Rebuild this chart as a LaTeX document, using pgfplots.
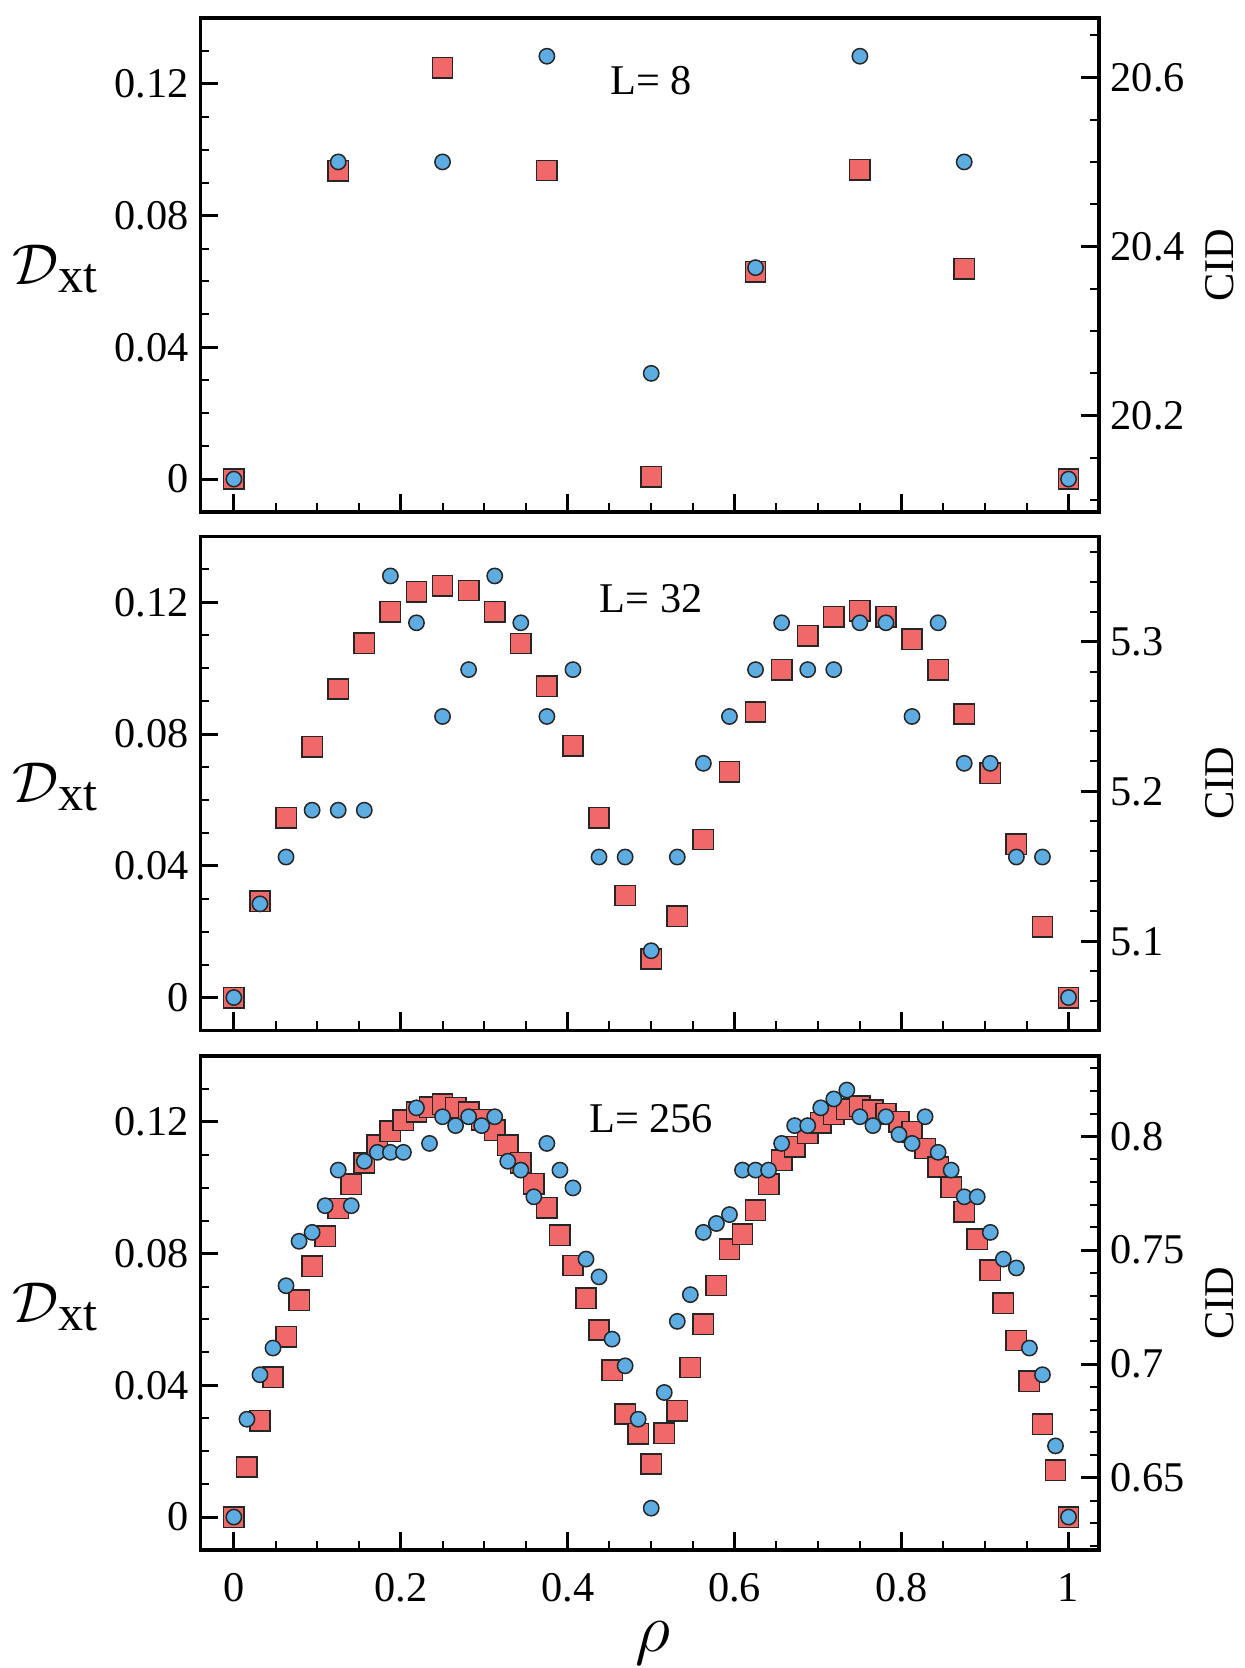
\documentclass[border=0pt]{standalone}
\usepackage{fontspec}
\setmainfont{Liberation Serif}
\usepackage{pgfplots}
\usepackage{pgfplotstable}
\pgfplotsset{compat=1.18}
\definecolor{sqred}{RGB}{240,104,104}
\definecolor{cblue}{RGB}{93,173,226}

\pgfplotstableread{
x D CID
0 0 20.125
0.125 0.0936 20.5
0.25 0.1249 20.5
0.375 0.0937 20.625
0.5 0.0007 20.25
0.625 0.0629 20.375
0.75 0.0939 20.625
0.875 0.0638 20.5
1 0 20.125
}\tabA

\pgfplotstableread{
x D CID
0 0 5.0625
0.03125 0.0292 5.125
0.0625 0.0546 5.15625
0.09375 0.0762 5.1875
0.125 0.0937 5.1875
0.15625 0.1076 5.1875
0.1875 0.1172 5.34375
0.21875 0.1232 5.3125
0.25 0.1251 5.25
0.28125 0.1236 5.28125
0.3125 0.1172 5.34375
0.34375 0.1075 5.3125
0.375 0.0945 5.25
0.40625 0.0764 5.28125
0.4375 0.0546 5.15625
0.46875 0.0310 5.15625
0.5 0.0117 5.09375
0.53125 0.0247 5.15625
0.5625 0.0480 5.21875
0.59375 0.0686 5.25
0.625 0.0867 5.28125
0.65625 0.0995 5.3125
0.6875 0.1099 5.28125
0.71875 0.1156 5.28125
0.75 0.1175 5.3125
0.78125 0.1156 5.3125
0.8125 0.1088 5.25
0.84375 0.0995 5.3125
0.875 0.0861 5.21875
0.90625 0.0681 5.21875
0.9375 0.0466 5.15625
0.96875 0.0215 5.15625
1 0 5.0625
}\tabB

\pgfplotstableread{
x D CID
0 0 0.63281
0.015625 0.0152 0.67578
0.03125 0.0293 0.69531
0.046875 0.0425 0.70703
0.0625 0.0547 0.73438
0.078125 0.0658 0.75391
0.09375 0.0761 0.75781
0.109375 0.0853 0.76953
0.125 0.0937 0.78516
0.140625 0.1010 0.76953
0.15625 0.1075 0.78906
0.171875 0.1129 0.79297
0.1875 0.1172 0.79297
0.203125 0.1205 0.79297
0.21875 0.1230 0.81250
0.234375 0.1244 0.79688
0.25 0.1254 0.80859
0.265625 0.1243 0.80469
0.28125 0.1229 0.80859
0.296875 0.1207 0.80469
0.3125 0.1175 0.80859
0.328125 0.1129 0.78906
0.34375 0.1076 0.78516
0.359375 0.1012 0.77344
0.375 0.0939 0.79688
0.390625 0.0856 0.78516
0.40625 0.0764 0.77734
0.421875 0.0665 0.74609
0.4375 0.0568 0.73828
0.453125 0.0446 0.71094
0.46875 0.0313 0.69922
0.484375 0.0253 0.67578
0.5 0.0161 0.63672
0.515625 0.0255 0.68750
0.53125 0.0323 0.71875
0.546875 0.0454 0.73047
0.5625 0.0586 0.75781
0.578125 0.0703 0.76172
0.59375 0.0813 0.76563
0.609375 0.0859 0.78516
0.625 0.0932 0.78516
0.640625 0.1011 0.78516
0.65625 0.1084 0.79688
0.671875 0.1124 0.80469
0.6875 0.1165 0.80469
0.703125 0.1197 0.81250
0.71875 0.1223 0.81641
0.734375 0.1238 0.82031
0.75 0.1247 0.80859
0.765625 0.1235 0.80469
0.78125 0.1225 0.80859
0.796875 0.1200 0.80078
0.8125 0.1170 0.79688
0.828125 0.1119 0.80859
0.84375 0.1063 0.79297
0.859375 0.1001 0.78516
0.875 0.0927 0.77344
0.890625 0.0844 0.77344
0.90625 0.0750 0.75781
0.921875 0.0649 0.74609
0.9375 0.0536 0.74219
0.953125 0.0413 0.70703
0.96875 0.0282 0.69531
0.984375 0.0142 0.66406
1 0 0.63281
}\tabC

\pgfplotsset{
  base/.style={
    scale only axis, width=269.55pt, height=148.2pt,
    anchor=south west,
    xmin=-0.04, xmax=1.0365,
    tick align=inside,
    major tick length=5.4pt, minor tick length=2.7pt,
    every major tick/.append style={line width=0.9pt, black},
    every minor tick/.append style={line width=0.6pt, black},
    axis line style={line width=1pt},
    ticklabel style={font=\fontsize{12.7}{14}\selectfont},
    xtick={0,0.2,0.4,0.6,0.8,1},
    minor xtick={0.05,0.1,0.15,0.25,0.3,0.35,0.45,0.5,0.55,0.65,0.7,0.75,0.85,0.9,0.95},
    xticklabel style={yshift=-3.5pt},
  },
  leftax/.style={base,
    ymin=-0.01, ymax=0.14,
    ytick={0,0.04,0.08,0.12}, yticklabels={0,0.04,0.08,0.12},
    minor ytick={0.01,0.02,0.03,0.05,0.06,0.07,0.09,0.10,0.11,0.13},
    xtick pos=left, ytick pos=left,
  },
  rightax/.style={base,
    hide x axis, axis y line*=right, ytick pos=right,
  },
  sq/.style={only marks, mark=square*, mark size=3.06pt,
    mark options={fill=sqred, draw=black!85, line width=0.45pt}},
  ci/.style={only marks, mark=*, mark size=2.3pt,
    mark options={fill=cblue, draw=black!85, line width=0.45pt}},
}

\newcommand{\Dlabel}{{\fontsize{17}{17}\selectfont$\mathcal{D}$}\raisebox{-2.4pt}{\fontsize{15}{15}\selectfont xt}}
\newcommand{\lfont}{\fontsize{12.7}{14}\selectfont}

\begin{document}
\begin{tikzpicture}
\useasboundingbox (0,0) rectangle (373.2pt,500.4pt);

% ---------- panel 1 (L = 8)
\begin{axis}[leftax, at={(60.15pt,346.8pt)},
  xticklabels={{\phantom{0}},{\phantom{0}},{\phantom{0}},{\phantom{0}},{\phantom{0}},{\phantom{0}}}]
\addplot[sq] table[x=x,y=D]{\tabA};
\node[font=\lfont] at (axis cs:0.5,0.121) {L= 8};
\end{axis}
\begin{axis}[rightax, at={(60.15pt,346.8pt)},
  ymin=20.0861, ymax=20.6702,
  ytick={20.2,20.4,20.6}, yticklabels={20.2,20.4,20.6},
  minor ytick={20.1,20.15,20.25,20.3,20.35,20.45,20.5,20.55,20.65}]
\addplot[ci] table[x=x,y=CID]{\tabA};
\end{axis}

% ---------- panel 2 (L = 32)
\begin{axis}[leftax, at={(60.15pt,191.25pt)},
  xticklabels={{\phantom{0}},{\phantom{0}},{\phantom{0}},{\phantom{0}},{\phantom{0}},{\phantom{0}}}]
\addplot[sq] table[x=x,y=D]{\tabB};
\node[font=\lfont] at (axis cs:0.5,0.121) {L= 32};
\end{axis}
\begin{axis}[rightax, at={(60.15pt,191.25pt)},
  ymin=5.04053, ymax=5.37008,
  ytick={5.1,5.2,5.3}, yticklabels={5.1,5.2,5.3},
  minor ytick={5.06,5.08,5.12,5.14,5.16,5.18,5.22,5.24,5.26,5.28,5.32,5.34,5.36}]
\addplot[ci] table[x=x,y=CID]{\tabB};
\end{axis}

% ---------- panel 3 (L = 256)
\begin{axis}[leftax, at={(60.15pt,35.4pt)},
  xticklabels={0,0.2,0.4,0.6,0.8,1}]
\addplot[sq] table[x=x,y=D]{\tabC};
\node[font=\lfont] at (axis cs:0.5,0.121) {L= 256};
\end{axis}
\begin{axis}[rightax, at={(60.15pt,35.4pt)},
  ymin=0.61835, ymax=0.83527,
  ytick={0.65,0.7,0.75,0.8}, yticklabels={0.65,0.7,0.75,0.8},
  minor ytick={0.62,0.63,0.64,0.66,0.67,0.68,0.69,0.71,0.72,0.73,0.74,0.76,0.77,0.78,0.79,0.81,0.82,0.83}]
\addplot[ci] table[x=x,y=CID]{\tabC};
\end{axis}

% ---------- axis titles
\node at (16.5pt,419.7pt) {\Dlabel};
\node at (16.5pt,264.2pt) {\Dlabel};
\node at (16.5pt,108.3pt) {\Dlabel};
\node[rotate=90] at (366pt,420.9pt) {\lfont CID};
\node[rotate=90] at (366pt,265.35pt) {\lfont CID};
\node[rotate=90] at (366pt,109.5pt) {\lfont CID};
\node at (195.9pt,7.35pt) {\fontsize{21}{21}\selectfont$\rho$};
\end{tikzpicture}
\end{document}
